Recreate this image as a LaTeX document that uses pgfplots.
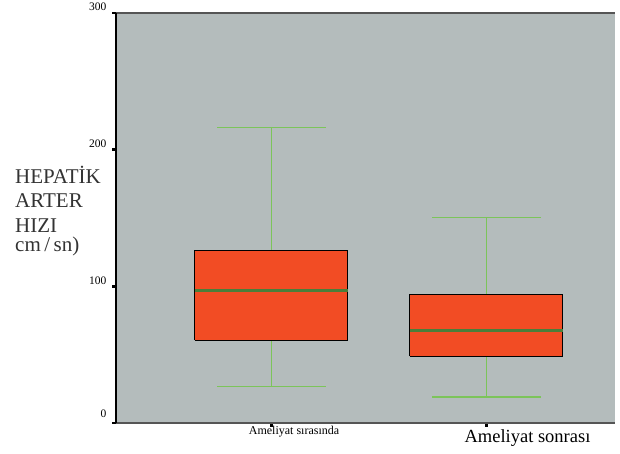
\documentclass[border=0pt]{standalone}
\usepackage{fontspec}
\setmainfont{Liberation Serif}
\usepackage{pgfplots}
\pgfplotsset{compat=1.18}
\definecolor{panel}{HTML}{B4BCBC}
\definecolor{boxred}{HTML}{F24C24}
\definecolor{medgreen}{HTML}{4A7E3A}
\definecolor{whisk}{HTML}{7CC45A}
\definecolor{frame}{HTML}{555555}
\begin{document}
\begin{tikzpicture}
\useasboundingbox (0pt,0pt) rectangle (620pt,454pt);
\begin{axis}[
    at={(116pt,31pt)}, anchor=south west,
    scale only axis, width=499pt, height=410pt,
    xmin=0.2777, xmax=2.5986, ymin=0, ymax=300,
    clip=false,
    axis background/.style={fill=panel},
    axis line style={draw=none},
    xtick={1,2}, xticklabels={}, xtick pos=bottom,
    ytick={0,100,200,300},
    yticklabels={\raisebox{7pt}{0},100,200,300},
    ytick pos=left,
    tick align=outside, major tick length=4pt,
    tick style={black, line width=2.5pt},
    /pgf/number format/assume math mode=true,
    yticklabel style={font=\fontsize{11.5}{11.5}\selectfont, yshift=6pt, xshift=-2pt},
]
% whiskers: (box edge -> whisker end) and caps
\addplot[whisk, line width=1.3pt] coordinates {(1,125.9) (1,216.4)};
\addplot[whisk, line width=1.3pt] coordinates {(0.7475,216.4) (1.2525,216.4)};
\addplot[whisk, line width=1.3pt] coordinates {(1,60.5) (1,26.8)};
\addplot[whisk, line width=1.3pt] coordinates {(0.7475,26.8) (1.2525,26.8)};
\addplot[whisk, line width=1.3pt] coordinates {(2,93.9) (2,150.5)};
\addplot[whisk, line width=1.3pt] coordinates {(1.7475,150.5) (2.2525,150.5)};
\addplot[whisk, line width=1.3pt] coordinates {(2,48.8) (2,19.0)};
\addplot[whisk, line width=1.3pt] coordinates {(1.7475,19.0) (2.2525,19.0)};
% boxes (lower quartile to upper quartile)
\addplot[draw=black, fill=boxred, line width=1pt]
  coordinates {(0.645,60.5) (1.355,60.5) (1.355,125.9) (0.645,125.9) (0.645,60.5)};
\addplot[draw=black, fill=boxred, line width=1pt]
  coordinates {(1.645,48.8) (2.355,48.8) (2.355,93.9) (1.645,93.9) (1.645,48.8)};
% medians
\addplot[medgreen, line width=3pt] coordinates {(0.645,97.1) (1.355,97.1)};
\addplot[medgreen, line width=3pt] coordinates {(1.645,67.5) (2.355,67.5)};
\draw[frame, line width=1.5pt] (rel axis cs:0,1) -- (rel axis cs:1,1);
\draw[frame, line width=2pt] (rel axis cs:0,0) -- (rel axis cs:1,0);
\draw[black, line width=2pt] (rel axis cs:0,0) -- (rel axis cs:0,1);
\end{axis}
\node[anchor=base, font=\fontsize{12}{12}\selectfont] at (294pt,19pt) {Ameliyat sırasında};
\node[anchor=base, font=\fontsize{18.5}{18.5}\selectfont] at (527.5pt,11pt) {Ameliyat sonrası};
\begin{scope}[every node/.style={anchor=base west, inner sep=0pt, font=\fontsize{21}{21}\selectfont, text=black!80}]
\node at (15pt,270pt) {HEPATİK};
\node at (15pt,246pt) {ARTER};
\node at (15pt,221pt) {HIZI};
\node at (15pt,202pt) {cm\,/\,sn)};
\end{scope}
\end{tikzpicture}
\end{document}
